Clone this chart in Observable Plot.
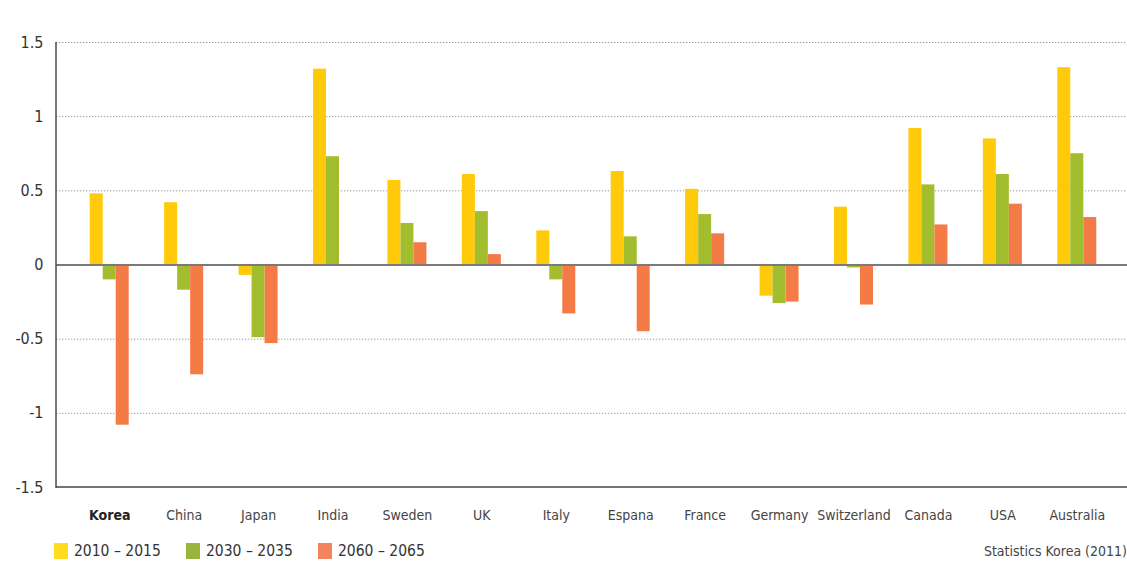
<!DOCTYPE html>
<html>
<head>
<meta charset="utf-8">
<script src="https://cdn.jsdelivr.net/npm/d3@7"></script>
<script src="https://cdn.jsdelivr.net/npm/@observablehq/plot@0.6"></script>
<style>
  html, body { margin: 0; padding: 0; background: #fff; }
  body { width: 1127px; height: 581px; overflow: hidden; font-family: "Liberation Sans Narrow", "DejaVu Sans Condensed", "Roboto", sans-serif; }
  #chart svg { display: block; }
  #foot { position: relative; height: 51px; }
  .leg { position: absolute; top: 12px; display: flex; align-items: center; font-size: 15.5px; color: #333; }
  .sw { width: 14px; height: 16px; margin-right: 6px; }
  #cap { position: absolute; right: 0; top: 12px; font-size: 14px; color: #444; line-height: 18px; }
</style>
</head>
<body>
<div id="chart"></div>
<div id="foot"></div>
<script>
const countries = ["Korea","China","Japan","India","Sweden","UK","Italy","Espana","France","Germany","Switzerland","Canada","USA","Australia"];
const seriesNames = ["2010 – 2015", "2030 – 2035", "2060 – 2065"];
const s2010 = [0.48, 0.42, -0.07, 1.32, 0.57, 0.61, 0.23, 0.63, 0.51, -0.21, 0.39, 0.92, 0.85, 1.33];
const s2030 = [-0.10, -0.17, -0.49, 0.73, 0.28, 0.36, -0.10, 0.19, 0.34, -0.26, -0.02, 0.54, 0.61, 0.75];
const s2060 = [-1.08, -0.74, -0.53, -0.01, 0.15, 0.07, -0.33, -0.45, 0.21, -0.25, -0.27, 0.27, 0.41, 0.32];
const yTicks = [-1.5, -1, -0.5, 0, 0.5, 1, 1.5];
const colors = ["#FFCA0A", "#A2BE2F", "#F47B45"];
const legendColors = ["#FFDC1E", "#9AB43E", "#F3845E"];
const caption = "Statistics Korea (2011)";

const allSeries = [s2010, s2030, s2060];
const rows = [];
allSeries.forEach((s, si) => countries.forEach((c, ci) => rows.push({country: c, series: seriesNames[si], si, value: s[ci]})));

const W = 1127, H = 530;
const bandStart = 72, bandEnd = 1114;
const bw = (bandEnd - bandStart) / countries.length;
const barW = 13;
const groupOffset = (bw - 3 * barW) / 2;

const font = '"Liberation Sans Narrow", "DejaVu Sans Condensed", sans-serif';

const barMarks = [0, 1, 2].map(i => Plot.barY(rows.filter(r => r.si === i), {
  x: "country", y: "value", fill: colors[i],
  insetLeft: groupOffset + i * barW,
  insetRight: bw - (groupOffset + i * barW) - barW
}));

const axisLines = (index, scales, values, dims) => {
  const g = d3.create("svg:g");
  const x0 = dims.marginLeft, y1 = dims.height - dims.marginBottom, yTop = dims.marginTop;
  g.append("line").attr("x1", x0).attr("x2", x0).attr("y1", yTop).attr("y2", y1 + 1)
    .attr("stroke", "#555").attr("stroke-width", 1.6);
  g.append("line").attr("x1", x0).attr("x2", dims.width - dims.marginRight).attr("y1", y1).attr("y2", y1)
    .attr("stroke", "#444").attr("stroke-width", 1.6);
  return g.node();
};

const plot = Plot.plot({
  width: W, height: H,
  marginLeft: 56, marginRight: 0, marginTop: 42, marginBottom: 43,
  style: { fontFamily: font, fontSize: "16px", color: "#333", background: "#fff" },
  x: { domain: countries, range: [bandStart, bandEnd], padding: 0, round: false, axis: null },
  y: { domain: [-1.5, 1.5], ticks: yTicks, tickFormat: d => String(d), tickSize: 0, tickPadding: 13, label: null },
  marks: [
    Plot.ruleY(yTicks.filter(d => d !== 0 && d !== -1.5), { stroke: "#999", strokeDasharray: "1.3,1.7", strokeWidth: 1 }),
    ...barMarks,
    Plot.ruleY([0], { stroke: "#7a7a7a", strokeWidth: 2 }),
    axisLines,
    Plot.text(countries.filter(c => c !== "Korea"), { x: d => d, text: d => d, frameAnchor: "bottom", dy: 28, fontSize: 14, fill: "#444", lineAnchor: "middle" }),
    Plot.text(countries.filter(c => c === "Korea"), { x: d => d, text: d => d, frameAnchor: "bottom", dy: 28, fontSize: 14, fill: "#222", fontWeight: "bold", lineAnchor: "middle" })
  ]
});
document.getElementById("chart").appendChild(plot);

const foot = document.getElementById("foot");
const legX = [54, 186, 318];
seriesNames.forEach((n, i) => {
  const d = document.createElement("div");
  d.className = "leg";
  d.style.left = legX[i] + "px";
  d.innerHTML = `<span class="sw" style="background:${legendColors[i]}"></span><span>${n}</span>`;
  foot.appendChild(d);
});
const cap = document.createElement("div");
cap.id = "cap";
cap.textContent = caption;
foot.appendChild(cap);
</script>
</body>
</html>
